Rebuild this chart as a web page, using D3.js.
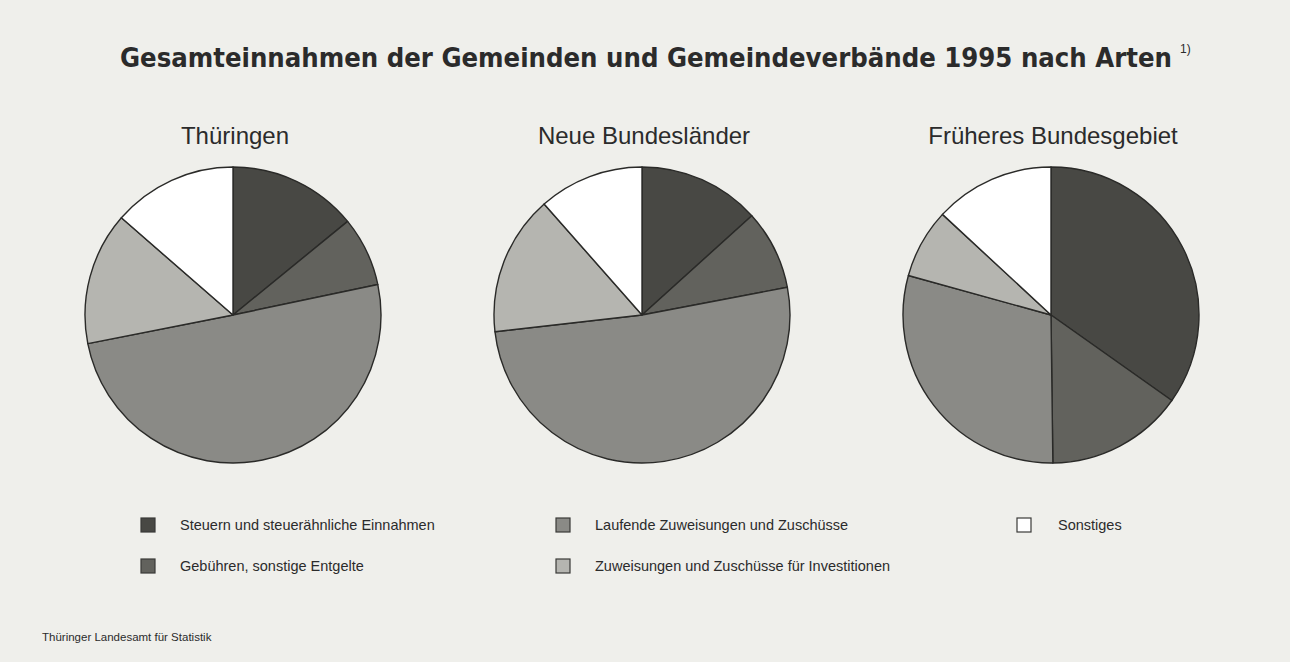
<!DOCTYPE html>
<html>
<head>
<meta charset="utf-8">
<script src="https://cdn.jsdelivr.net/npm/d3@7"></script>
<style>
  body { margin: 0; background: #efefeb; }
  svg { display: block; }
</style>
</head>
<body>
<div id="chart"></div>
<script>
// Kategorien (Reihenfolge im Uhrzeigersinn ab 12 Uhr)
var categories = ["Steuern und steuerähnliche Einnahmen", "Gebühren, sonstige Entgelte",
  "Laufende Zuweisungen und Zuschüsse", "Zuweisungen und Zuschüsse für Investitionen", "Sonstiges"];
var regions = ["Thüringen", "Neue Bundesländer", "Früheres Bundesgebiet"];
// Anteile in % (aus dem Bild geschätzt)
var thueringen = [14.1, 7.6, 50.2, 14.5, 13.6];
var neueLaender = [13.3, 8.7, 51.2, 15.3, 11.5];
var frueheresGebiet = [34.8, 15.0, 29.5, 7.6, 13.1];
var seriesValues = [thueringen, neueLaender, frueheresGebiet];

var W = 1290, H = 662;
var svg = d3.select("#chart").append("svg")
  .attr("width", W).attr("height", H);

svg.append("rect").attr("width", W).attr("height", H).attr("fill", "#efefeb");

var color = d3.scaleOrdinal()
  .domain(categories)
  .range(["#484844", "#62625d", "#8a8a86", "#b5b5b0", "#ffffff"]);

// Titel
svg.append("text")
  .attr("x", 120).attr("y", 67)
  .attr("font-family", "'DejaVu Sans Condensed', 'Liberation Sans Narrow', sans-serif")
  .attr("font-weight", "bold")
  .attr("font-size", 26)
  .attr("fill", "#2b2b2b")
  .attr("textLength", 1052)
  .attr("lengthAdjust", "spacingAndGlyphs")
  .text("Gesamteinnahmen der Gemeinden und Gemeindeverbände 1995 nach Arten");
svg.append("text")
  .attr("x", 1180).attr("y", 53)
  .attr("font-family", "'Liberation Sans', sans-serif")
  .attr("font-size", 12)
  .attr("fill", "#2b2b2b")
  .text("1)");

var centersX = [233, 642, 1051];
var cy = 315, r = 148;

var pie = d3.pie().sort(null).value(d => d);
var arc = d3.arc().innerRadius(0).outerRadius(r);

seriesValues.forEach(function(vals, i){
  var g = svg.append("g").attr("transform", `translate(${centersX[i]}, ${cy})`);
  g.selectAll("path")
    .data(pie(vals))
    .join("path")
    .attr("d", arc)
    .attr("fill", (d, j) => color(categories[j]))
    .attr("stroke", "#2a2a28")
    .attr("stroke-width", 1.4)
    .attr("stroke-linejoin", "round");

  svg.append("text")
    .attr("x", centersX[i] + 2).attr("y", 144)
    .attr("text-anchor", "middle")
    .attr("font-family", "'Liberation Sans', Arial, sans-serif")
    .attr("font-size", 24)
    .attr("fill", "#2b2b2b")
    .text(regions[i]);
});

// Legende
var legendPos = [[141, 525], [141, 566], [556, 525], [556, 566], [1017, 525]];
var lg = svg.append("g");
categories.forEach(function(c, i){
  var p = legendPos[i];
  lg.append("rect")
    .attr("x", p[0]).attr("y", p[1] - 7)
    .attr("width", 14).attr("height", 14)
    .attr("fill", color(c))
    .attr("stroke", "#3a3a38")
    .attr("stroke-width", 1.2);
  lg.append("text")
    .attr("x", p[0] + (i == 4 ? 41 : 39)).attr("y", p[1] + 5)
    .attr("font-family", "'Liberation Sans', Arial, sans-serif")
    .attr("font-size", 14.5)
    .attr("fill", "#2b2b2b")
    .text(c);
});

// Quelle
svg.append("text")
  .attr("x", 42).attr("y", 641)
  .attr("font-family", "'Liberation Sans', Arial, sans-serif")
  .attr("font-size", 11.5)
  .attr("fill", "#2b2b2b")
  .text("Thüringer Landesamt für Statistik");
</script>
</body>
</html>
